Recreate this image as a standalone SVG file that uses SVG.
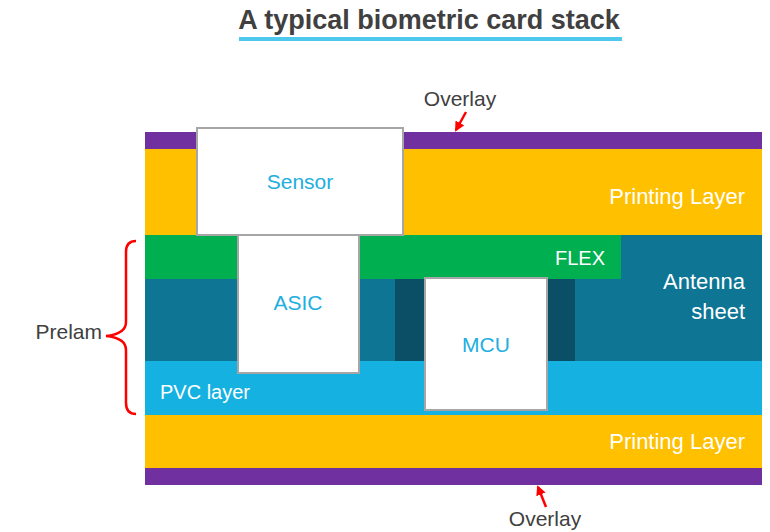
<svg xmlns="http://www.w3.org/2000/svg" width="770" height="532" viewBox="0 0 770 532">
<style>
text{font-family:"Liberation Sans",Arial,sans-serif}
.lbl{fill:#404040;font-size:21px}
.w{fill:#ffffff;font-size:22px}
.ws{fill:#ffffff;font-size:20px}
.chip{fill:#ffffff;stroke:#A6A6A6;stroke-width:2}
.ct{fill:#22AEE0;font-size:21px;text-anchor:middle}
.red{stroke:#FF0000;stroke-width:2.5;fill:none}
</style>
<defs>
<marker id="ah" viewBox="0 0 10 10" refX="8" refY="5" markerWidth="4" markerHeight="4" orient="auto">
<path d="M0,0 L10,5 L0,10 z" fill="#FF0000"/>
</marker>
</defs>
<rect width="770" height="532" fill="#ffffff"/>
<g id="title">
<text x="429" y="29" text-anchor="middle" font-size="27" font-weight="bold" fill="#404040">A typical biometric card stack</text>
<rect x="239" y="37" width="383" height="4" fill="#4FC8EE"/>
</g>
<g id="layers">
<rect id="overlay-top" x="145" y="132" width="617" height="17" fill="#7030A0"/>
<rect id="printing-top" x="145" y="149" width="617" height="86" fill="#FFC000"/>
<rect id="antenna" x="145" y="235" width="617" height="126" fill="#0E7694"/>
<rect id="flex" x="145" y="235" width="476" height="44" fill="#00B050"/>
<rect id="dark" x="395" y="279" width="180" height="82" fill="#0B4F66"/>
<rect id="pvc" x="145" y="361" width="617" height="54" fill="#15B1E0"/>
<rect id="printing-bottom" x="145" y="415" width="617" height="53" fill="#FFC000"/>
<rect id="overlay-bottom" x="145" y="468" width="617" height="17" fill="#7030A0"/>
</g>
<g id="layer-labels">
<text class="w" x="745" y="204" text-anchor="end">Printing Layer</text>
<text class="ws" x="605" y="265" text-anchor="end">FLEX</text>
<text class="w" x="745" y="289" text-anchor="end">Antenna</text>
<text class="w" x="745" y="319" text-anchor="end">sheet</text>
<text class="ws" x="160" y="399">PVC layer</text>
<text class="w" x="745" y="449" text-anchor="end">Printing Layer</text>
</g>
<g id="sensor">
<rect class="chip" x="197" y="128" width="206" height="107"/>
<text class="ct" x="300" y="189">Sensor</text>
</g>
<g id="asic">
<rect class="chip" x="238" y="235" width="121" height="138"/>
<text class="ct" x="298" y="310">ASIC</text>
</g>
<g id="mcu">
<rect class="chip" x="425" y="278" width="122" height="132"/>
<text class="ct" x="486" y="352">MCU</text>
</g>
<g id="connectors">
<path class="red" d="M466,112 L456,130" marker-end="url(#ah)"/>
<path class="red" d="M546,507 L538,487" marker-end="url(#ah)"/>
<path class="red" d="M136,241 Q126,241 126,252 L126,322 Q126,334 106,336 Q126,338 126,350 L126,403 Q126,414 136,414"/>
</g>
<g id="annotations">
<text class="lbl" x="460" y="106" text-anchor="middle">Overlay</text>
<text class="lbl" x="545" y="526" text-anchor="middle">Overlay</text>
<text class="lbl" x="102" y="339" text-anchor="end">Prelam</text>
</g>
</svg>
